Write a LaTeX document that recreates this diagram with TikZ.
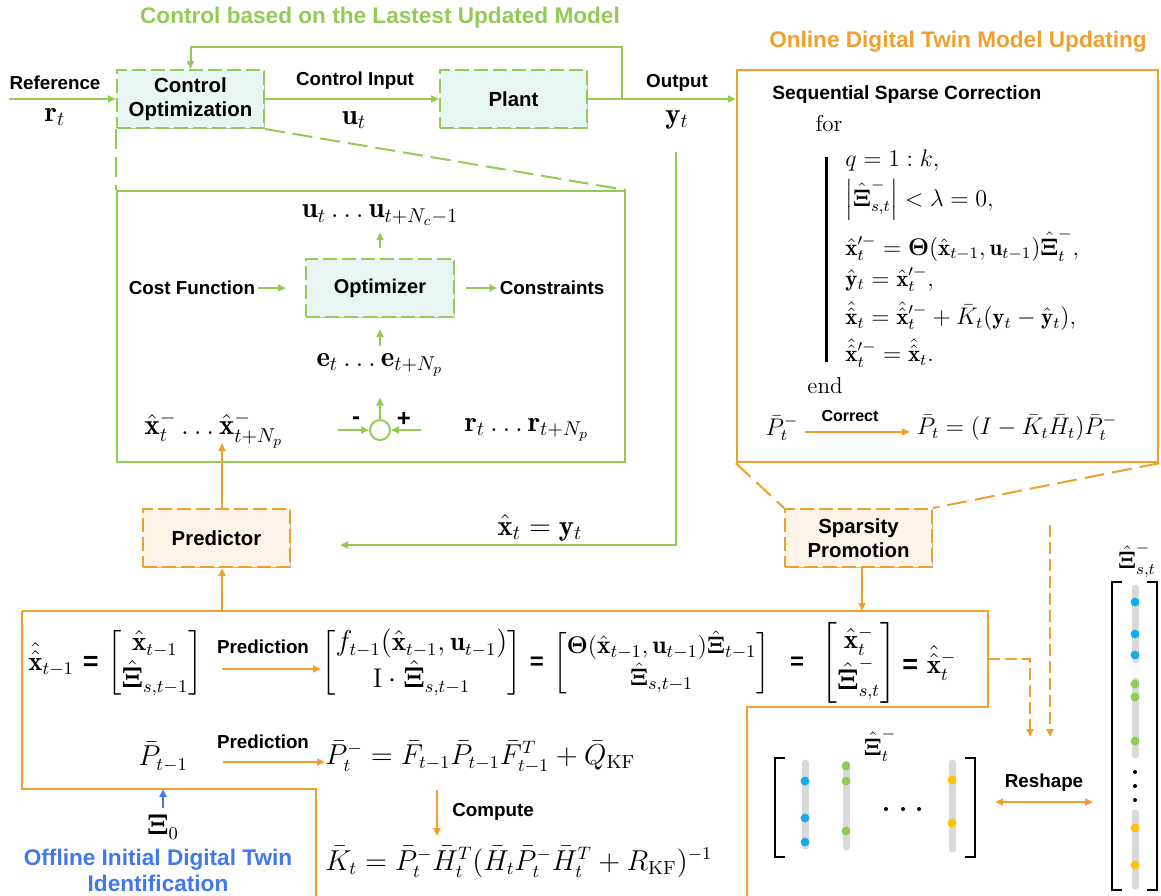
\documentclass[tikz,border=0pt]{standalone}
\usepackage{amsmath}
\usepackage{amssymb}
\usepackage{xcolor}
\usepackage{fontspec}
\setsansfont{Liberation Sans}
\usepackage{tikz}
\usetikzlibrary{arrows.meta}

\definecolor{cgreen}{RGB}{146,204,84}
\definecolor{corange}{RGB}{240,160,45}
\definecolor{cblue}{RGB}{66,120,238}
\definecolor{cyanfill}{RGB}{232,246,243}
\definecolor{orangefill}{RGB}{253,243,230}
\definecolor{barcol}{RGB}{217,217,217}
\definecolor{dotblue}{RGB}{20,170,235}
\definecolor{dotgreen}{RGB}{140,205,80}
\definecolor{dotyellow}{RGB}{255,192,0}

\begin{document}
\begin{tikzpicture}[x=0.5pt,y=-0.5pt]

        \tikzstyle{lab}=[font=\sffamily\bfseries\fontsize{9.4}{11}\selectfont,inner sep=1pt]
        \tikzstyle{bigtitle}=[font=\sffamily\bfseries\fontsize{11.3}{13}\selectfont,inner sep=1pt]
        \tikzstyle{gbox}=[draw=cgreen,fill=cyanfill,line width=1pt,dash pattern=on 7pt off 2.5pt,
            preaction={draw=black!25,line width=0.4pt,solid},
            font=\sffamily\bfseries\fontsize{10.2}{12}\selectfont,align=center,
            minimum width=73.5pt,minimum height=29pt]
        \tikzstyle{obox}=[gbox,draw=corange,fill=orangefill]
        \tikzstyle{garrow}=[draw=cgreen,line width=1pt,-{Triangle[length=4pt,width=3.5pt]}]
        \tikzstyle{oarrow}=[garrow,draw=corange]
        \tikzstyle{barrow}=[garrow,draw=cblue]
        \tikzstyle{gdash}=[draw=cgreen,line width=1pt,dash pattern=on 10pt off 4pt]
        \tikzstyle{odash}=[gdash,draw=corange]
        \tikzstyle{odasharrow}=[oarrow,dash pattern=on 6pt off 2.5pt]
        \tikzstyle{eqm}=[font=\fontsize{11.5}{14}\selectfont]
        \tikzstyle{kfm}=[font=\fontsize{13.5}{16}\selectfont]
        \tikzstyle{bigm}=[font=\Large]
        \tikzstyle{eqsign}=[font=\sffamily\bfseries\large,inner sep=1pt]
        \tikzstyle{bar}=[draw=barcol,line width=3.5pt,line cap=round]

        \useasboundingbox (0,0) rectangle (1161,895);

        %% titles
        \node[bigtitle,text=cgreen] (ctitle) at (380,18) {Control based on the Lastest Updated Model};
        \node[bigtitle,text=corange] (otitle) at (958,42) {Online Digital Twin Model Updating};

        %% control loop
        \node[gbox] (ctrl) at (190.5,99) {Control\\Optimization};
        \node[gbox] (plant) at (513.5,99) {Plant};
        \node[draw=corange,line width=1.2pt,minimum width=210.5pt,minimum height=196pt] (online) at (947.5,266) {};

        \node[lab] (reflab) at (55,83) {Reference};
        \node[bigm] (rt) at (55,117) {$\mathbf{r}_t$};
        \coordinate (refin) at (9,99);
        \draw[garrow] (refin) -- (ctrl.west);
        \draw[garrow] (ctrl.east) -- (plant.west);
        \node[lab] (cinlab) at (355,81) {Control Input};
        \node[bigm] (ut) at (354,120) {$\mathbf{u}_t$};
        \draw[garrow] (plant.east) -- (plant.east -| online.west);
        \node[lab] (outlab) at (677,83) {Output};
        \node[bigm] (yt) at (677,120) {$\mathbf{y}_t$};

        \coordinate (tap) at (622,99);
        \coordinate (fbtop) at (190.5,47);
        \draw[garrow] (tap) |- (fbtop) -- (ctrl.north);

        \coordinate (ydown) at (676,152);
        \coordinate (xin) at (340,545);
        \draw[garrow] (ydown) |- (xin);
        \node[bigm] (xeqy) at (540,528) {$\hat{\mathbf{x}}_t=\mathbf{y}_t$};

        %% MPC detail
        \node[draw=cgreen,line width=1pt,minimum width=254pt,minimum height=135.5pt] (mpc) at (371,326.5) {};
        \draw[gdash] (ctrl.south west) -- (mpc.north west);
        \draw[gdash] (ctrl.south east) -- (mpc.north east);

        \node[bigm] (useq) at (380,215) {$\mathbf{u}_t\ldots\mathbf{u}_{t+N_c-1}$};
        \node[gbox,minimum width=74pt,font=\sffamily\bfseries\fontsize{10}{12}\selectfont] (opt) at (380,288) {Optimizer};
        \draw[garrow,shorten <=5pt] (opt.north) -- (useq.south);
        \node[lab] (cost) at (192,288) {Cost Function};
        \draw[garrow,shorten >=9.5pt] (cost.east) -- (opt.west);
        \node[lab] (cons) at (552,288) {Constraints};
        \draw[garrow,shorten <=5.5pt] (opt.east) -- (cons.west);
        \node[bigm] (eseq) at (380,365) {$\mathbf{e}_t\ldots\mathbf{e}_{t+N_p}$};
        \draw[garrow,shorten >=5.5pt] (eseq.north) -- (opt.south);

        \node[circle,draw=cgreen,line width=1pt,minimum size=10pt,inner sep=0pt] (sum) at (380,430) {};
        \draw[garrow,shorten >=7pt] (sum.north) -- (eseq.south);
        \coordinate (minusin) at (338,430);
        \coordinate (plusin) at (421,430);
        \draw[garrow] (minusin) -- (sum.west);
        \draw[garrow] (plusin) -- (sum.east);
        \node[eqsign] (minus) at (356,421) {-};
        \node[eqsign] (plus) at (404,419) {+};
        \node[bigm] (xseq) at (214,430) {$\hat{\mathbf{x}}_t^-\ldots\hat{\mathbf{x}}_{t+N_p}^-$};
        \node[bigm] (rseq) at (527,430) {$\mathbf{r}_t\ldots\mathbf{r}_{t+N_p}$};

        %% predictor / sparsity
        \node[obox] (pred) at (216.5,538) {Predictor};
        \node[obox] (sparse) at (858.5,538) {Sparsity\\Promotion};
        \coordinate (xtip) at (222,443);
        \draw[oarrow] (pred.north -| xtip) -- (xtip);
        \coordinate (predin) at (222,611);
        \draw[oarrow] (predin) -- (pred.south -| predin);
        \coordinate (sparseout) at (862,611);
        \draw[oarrow] (sparse.south -| sparseout) -- (sparseout);
        \draw[odash] (online.south west) -- (sparse.north west);
        \draw[odash] (online.south east) -- (sparse.north east);

        %% sequential sparse correction
        \node[lab,anchor=west,font=\sffamily\bfseries\fontsize{9.6}{12}\selectfont] (seqc) at (770,95) {Sequential Sparse Correction};
        \node[eqm] (forkw) at (829,124) {for};
        \draw[line width=1.5pt] (826,157) -- (826,362);
        \node[eqm,anchor=west,inner sep=0pt] (eqa) at (845,160) {$q=1:k,$};
        \node[eqm,anchor=west,inner sep=0pt] (eqb) at (845,200) {$\left|\hat{\boldsymbol{\Xi}}^-_{s,t}\right|<\lambda=0,$};
        \node[eqm,anchor=west,inner sep=0pt] (eqc) at (845,245) {$\hat{\mathbf{x}}_t^{\prime-}=\boldsymbol{\Theta}(\hat{\mathbf{x}}_{t-1},\mathbf{u}_{t-1})\hat{\boldsymbol{\Xi}}_t^-,$};
        \node[eqm,anchor=west,inner sep=0pt] (eqd) at (845,279) {$\hat{\mathbf{y}}_t=\hat{\mathbf{x}}_t^{\prime-},$};
        \node[eqm,anchor=west,inner sep=0pt] (eqe) at (845,316) {$\hat{\hat{\mathbf{x}}}_t=\hat{\hat{\mathbf{x}}}_t^{\prime-}+\bar{K}_t(\mathbf{y}_t-\hat{\mathbf{y}}_t),$};
        \node[eqm,anchor=west,inner sep=0pt] (eqf) at (845,353) {$\hat{\hat{\mathbf{x}}}_t^{\prime-}=\hat{\hat{\mathbf{x}}}_t.$};
        \node[eqm] (endkw) at (825,386) {end};
        \node[eqm] (pminus) at (782,428) {$\bar{P}_t^-$};
        \node[eqm] (pcorr) at (1017,428) {$\bar{P}_t=(I-\bar{K}_t\bar{H}_t)\bar{P}_t^-$};
        \draw[oarrow] ([yshift=-2pt]pminus.east) -- ([yshift=-2pt]pminus.east -| pcorr.west);
        \node[lab,font=\sffamily\bfseries\fontsize{8}{10}\selectfont] (corrlab) at (850,416) {Correct};

        %% Kalman prediction
        \draw[corange,line width=1.2pt] (22,611) -- (988,611) -- (988,707) -- (747,707) -- (747,896);
        \draw[corange,line width=1.2pt] (22,611) -- (22,789) -- (316,789) -- (316,896);

        \node[kfm,anchor=west,inner sep=0pt] (xaug) at (28,663) {$\hat{\hat{\mathbf{x}}}_{t-1}$ {\sffamily\bfseries =} $\begin{bmatrix}\hat{\mathbf{x}}_{t-1}\\ \hat{\boldsymbol{\Xi}}_{s,t-1}\end{bmatrix}$};
        \node[kfm,anchor=west,inner sep=0pt] (fmat) at (321,663) {$\begin{bmatrix}f_{t-1}(\hat{\mathbf{x}}_{t-1},\mathbf{u}_{t-1})\\ \mathrm{I}\cdot\hat{\boldsymbol{\Xi}}_{s,t-1}\end{bmatrix}$};
        \node[eqsign] (eqone) at (537,663) {=};
        \node[kfm,anchor=west,inner sep=0pt,font=\fontsize{12.8}{16}\selectfont] (thmat) at (553,663) {$\begin{bmatrix}\boldsymbol{\Theta}(\hat{\mathbf{x}}_{t-1},\mathbf{u}_{t-1})\hat{\boldsymbol{\Xi}}_{t-1}\\ \hat{\boldsymbol{\Xi}}_{s,t-1}\end{bmatrix}$};
        \node[eqsign] (eqtwo) at (797,663) {=};
        \node[kfm,anchor=west,inner sep=0pt] (xmat) at (821,663) {$\begin{bmatrix}\hat{\mathbf{x}}_t^-\\ \hat{\boldsymbol{\Xi}}_{s,t}^-\end{bmatrix}$};
        \node[kfm,anchor=west,inner sep=0pt] (xout) at (902,663) {{\sffamily\bfseries =}\ $\hat{\hat{\mathbf{x}}}_t^-$};
        \draw[oarrow,shorten <=9.5pt] ([yshift=-3pt]xaug.east) -- ([yshift=-3pt]xaug.east -| fmat.west);
        \node[lab] (predlaba) at (263,647) {Prediction};

        \node[kfm] (pprev) at (163,757) {$\bar{P}_{t-1}$};
        \node[kfm,anchor=west,inner sep=0pt] (pprior) at (325,757) {$\bar{P}_t^-=\bar{F}_{t-1}\bar{P}_{t-1}\bar{F}_{t-1}^T+\bar{Q}_{\mathrm{KF}}$};
        \draw[oarrow,shorten <=14pt] ([yshift=-2.5pt]pprev.east) -- ([yshift=-2.5pt]pprev.east -| pprior.west);
        \node[lab] (predlabb) at (263,742) {Prediction};
        \node[kfm,anchor=west,inner sep=0pt] (kgain) at (325,862) {$\bar{K}_t=\bar{P}_t^-\bar{H}_t^T(\bar{H}_t\bar{P}_t^-\bar{H}_t^T+R_{\mathrm{KF}})^{-1}$};
        \coordinate (kx) at (437,810);
        \draw[oarrow,shorten <=8pt,shorten >=5pt] (kx |- pprior.south) -- (kx |- kgain.north);
        \node[lab] (complab) at (493,812) {Compute};

        %% offline identification
        \node[kfm] (xinit) at (163,827) {$\boldsymbol{\Xi}_0$};
        \coordinate (xinitin) at (163,789);
        \draw[barrow] (xinit.north) -- (xinitin);
        \node[bigtitle,text=cblue,align=center] (offlab) at (158,870) {Offline Initial Digital Twin\\Identification};

        %% reshape of the coefficient matrix
        \coordinate (dashfrom) at (988,659);
        \coordinate (dashato) at (1030,737);
        \draw[odasharrow] (dashfrom) -| (dashato);
        \coordinate (dashbfrom) at (1050,525);
        \coordinate (dashbto) at (1050,737);
        \draw[odasharrow] (dashbfrom) -- (dashbto);

        \node[eqm] (ximat) at (880,745) {$\hat{\boldsymbol{\Xi}}_t^-$};
        \draw[line width=1pt] (785,758) -- (775,758) -- (775,857) -- (785,857);
        \draw[line width=1pt] (965,758) -- (975,758) -- (975,857) -- (965,857);
        \draw[bar] (805,763) -- (805,846);
        \draw[bar] (846,764) -- (846,847);
        \draw[bar] (952,763) -- (952,849);
        \fill[dotblue] (805,781) circle[radius=2.2pt];
        \fill[dotblue] (805,818) circle[radius=2.2pt];
        \fill[dotblue] (805,842) circle[radius=2.2pt];
        \fill[dotgreen] (846,766) circle[radius=2.2pt];
        \fill[dotgreen] (846,781) circle[radius=2.2pt];
        \fill[dotgreen] (846,831) circle[radius=2.2pt];
        \fill[dotyellow] (952,780) circle[radius=2.2pt];
        \fill[dotyellow] (952,823) circle[radius=2.2pt];
        \fill (886,809) circle[radius=1pt];
        \fill (903,809) circle[radius=1pt];
        \fill (919,809) circle[radius=1pt];

        \node[lab] (reshlab) at (1044,783) {Reshape};
        \coordinate (matR) at (995,802);
        \coordinate (vecL) at (1093,802);
        \draw[oarrow,{Triangle[length=4pt,width=3.5pt]}-{Triangle[length=4pt,width=3.5pt]}] (matR) -- (vecL);

        \node[eqm] (xivec) at (1137,560) {$\hat{\boldsymbol{\Xi}}_{s,t}^-$};
        \draw[line width=1pt] (1122,582) -- (1112,582) -- (1112,890) -- (1122,890);
        \draw[line width=1pt] (1147,582) -- (1157,582) -- (1157,890) -- (1147,890);
        \draw[bar] (1135,588) -- (1135,660);
        \draw[bar] (1135,681) -- (1135,755);
        \draw[bar] (1135,813) -- (1135,886);
        \fill[dotblue] (1135,602) circle[radius=2.2pt];
        \fill[dotblue] (1135,634) circle[radius=2.2pt];
        \fill[dotblue] (1135,655) circle[radius=2.2pt];
        \fill[dotgreen] (1135,684) circle[radius=2.2pt];
        \fill[dotgreen] (1135,697) circle[radius=2.2pt];
        \fill[dotgreen] (1135,741) circle[radius=2.2pt];
        \fill[dotyellow] (1135,828) circle[radius=2.2pt];
        \fill[dotyellow] (1135,865) circle[radius=2.2pt];
        \fill (1135,772) circle[radius=1pt];
        \fill (1135,786) circle[radius=1pt];
        \fill (1135,800) circle[radius=1pt];

\end{tikzpicture}
\end{document}
